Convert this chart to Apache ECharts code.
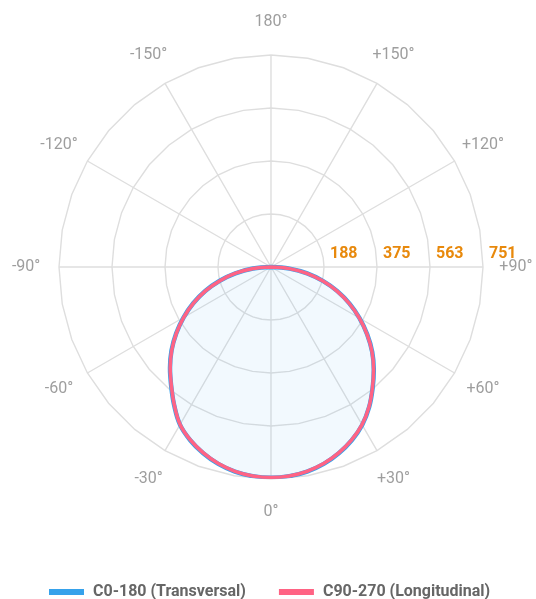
<!DOCTYPE html>
<html>
<head>
<meta charset="utf-8">
<script src="https://cdn.jsdelivr.net/npm/echarts@6/dist/echarts.min.js"></script>
<style>
  html, body { margin: 0; padding: 0; background: #fff; }
  #chart { width: 536px; height: 599px; }
</style>
</head>
<body>
<div id="chart"></div>
<script>
// gamma angles (0 = straight down), one point every 5°
const angulos = [-90, -85, -80, -75, -70, -65, -60, -55, -50, -45, -40, -35, -30, -25, -20, -15, -10, -5,
  0, 5, 10, 15, 20, 25, 30, 35, 40, 45, 50, 55, 60, 65, 70, 75, 80, 85, 90];
// intensity, C0-180 plane
const transversal = [0, 64, 128, 188, 248, 304, 358, 410, 460, 506, 550, 598, 645, 677, 702, 722, 736, 744,
  747, 744, 736, 722, 702, 677, 646, 606, 560, 515, 468, 416, 362, 307, 250, 190, 130, 66, 0];
// intensity, C90-270 plane
const longitudinal = [0, 63, 127, 187, 247, 303, 357, 409, 459, 505, 549, 597, 644, 676, 701, 721, 735, 743,
  746, 743, 735, 721, 701, 676, 645, 605, 559, 514, 467, 415, 361, 306, 249, 189, 129, 65, 0];

// labels of the rings and of the spokes (spokes counter-clockwise from the right)
const etiquetasRadio = ['188', '375', '563', '751'];
const etiquetasAngulo = ['+90°', '+120°', '+150°', '180°', '-150°', '-120°', '-90°', '-60°', '-30°', '0°', '+30°', '+60°'];
const nombres = ['C0-180 (Transversal)', 'C90-270 (Longitudinal)'];

const maxRadio = 751;
const centro = [271, 267];
const radio = 212;
const gris = '#dedede';

// data in polar: [radius, angle]; angle axis runs 90..450 counter-clockwise from the right
const aPolar = (vals) => vals.map((r, i) => [r, angulos[i] + 360]);

const opciones = {
  animation: false,
  textStyle: { fontFamily: 'Roboto' },
  radar: {
    center: centro,
    radius: radio,
    startAngle: 90,
    splitNumber: 4,
    shape: 'polygon',
    indicator: Array.from({ length: 36 }, () => ({ max: maxRadio })),
    axisName: { show: false },
    axisLine: { show: false },
    axisTick: { show: false },
    axisLabel: { show: false },
    splitArea: { show: false },
    splitLine: { lineStyle: { color: gris, width: 1.4 } }
  },
  polar: { center: centro, radius: radio },
  angleAxis: {
    type: 'value',
    min: 90,
    max: 450,
    interval: 30,
    startAngle: 0,
    clockwise: false,
    axisLine: { show: false },
    axisTick: { show: false },
    axisLabel: { show: false },
    splitLine: { show: true, lineStyle: { color: gris, width: 1.4 } }
  },
  radiusAxis: {
    type: 'value',
    min: 0,
    max: maxRadio,
    interval: maxRadio / 4,
    axisLine: { show: false },
    axisTick: { show: false },
    splitLine: { show: false },
    z: 10,
    axisLabel: {
      showMinLabel: false,
      margin: 5,
      align: 'left',
      padding: [0, 0, 0, 6],
      color: '#e8890c',
      fontWeight: 'bold',
      fontSize: 16,
      formatter: (v, i) => i > 0 ? etiquetasRadio[i - 1] : ''
    }
  },
  legend: {
    top: 579,
    left: 44,
    icon: 'rect',
    itemWidth: 35,
    itemHeight: 6,
    itemGap: 33,
    textStyle: { color: '#666', fontSize: 16, fontWeight: 'bold', fontFamily: 'Roboto', padding: [0, 0, 0, 4] },
    data: nombres
  },
  series: [
    {
      name: nombres[0],
      type: 'line',
      coordinateSystem: 'polar',
      smooth: 0.4,
      symbol: 'none',
      color: '#36a2eb',
      itemStyle: { color: '#36a2eb' },
      lineStyle: { color: '#36a2eb', width: 4.5 },
      areaStyle: { color: 'rgba(54,162,235,0.09)' },
      data: aPolar(transversal)
    },
    {
      name: nombres[1],
      type: 'line',
      coordinateSystem: 'polar',
      smooth: 0.4,
      symbol: 'none',
      color: '#ff6384',
      itemStyle: { color: '#ff6384' },
      lineStyle: { color: '#ff6384', width: 3.5 },
      data: aPolar(longitudinal)
    }
  ]
};

const grafico = echarts.init(document.getElementById('chart'));
grafico.setOption(opciones);

// spoke labels centred a little outside the outer ring, placed through the polar scale
const radioTexto = maxRadio * 1.155;
const textos = etiquetasAngulo.map((t, i) => {
  const p = grafico.convertToPixel({ polarIndex: 0 }, [radioTexto, 90 + 30 * i]);
  return {
    type: 'text',
    x: p[0],
    y: p[1],
    style: { text: t, fill: '#9e9e9e', fontSize: 16, fontFamily: 'Roboto', align: 'center', verticalAlign: 'middle' }
  };
});
grafico.setOption({ graphic: textos });
</script>
</body>
</html>
